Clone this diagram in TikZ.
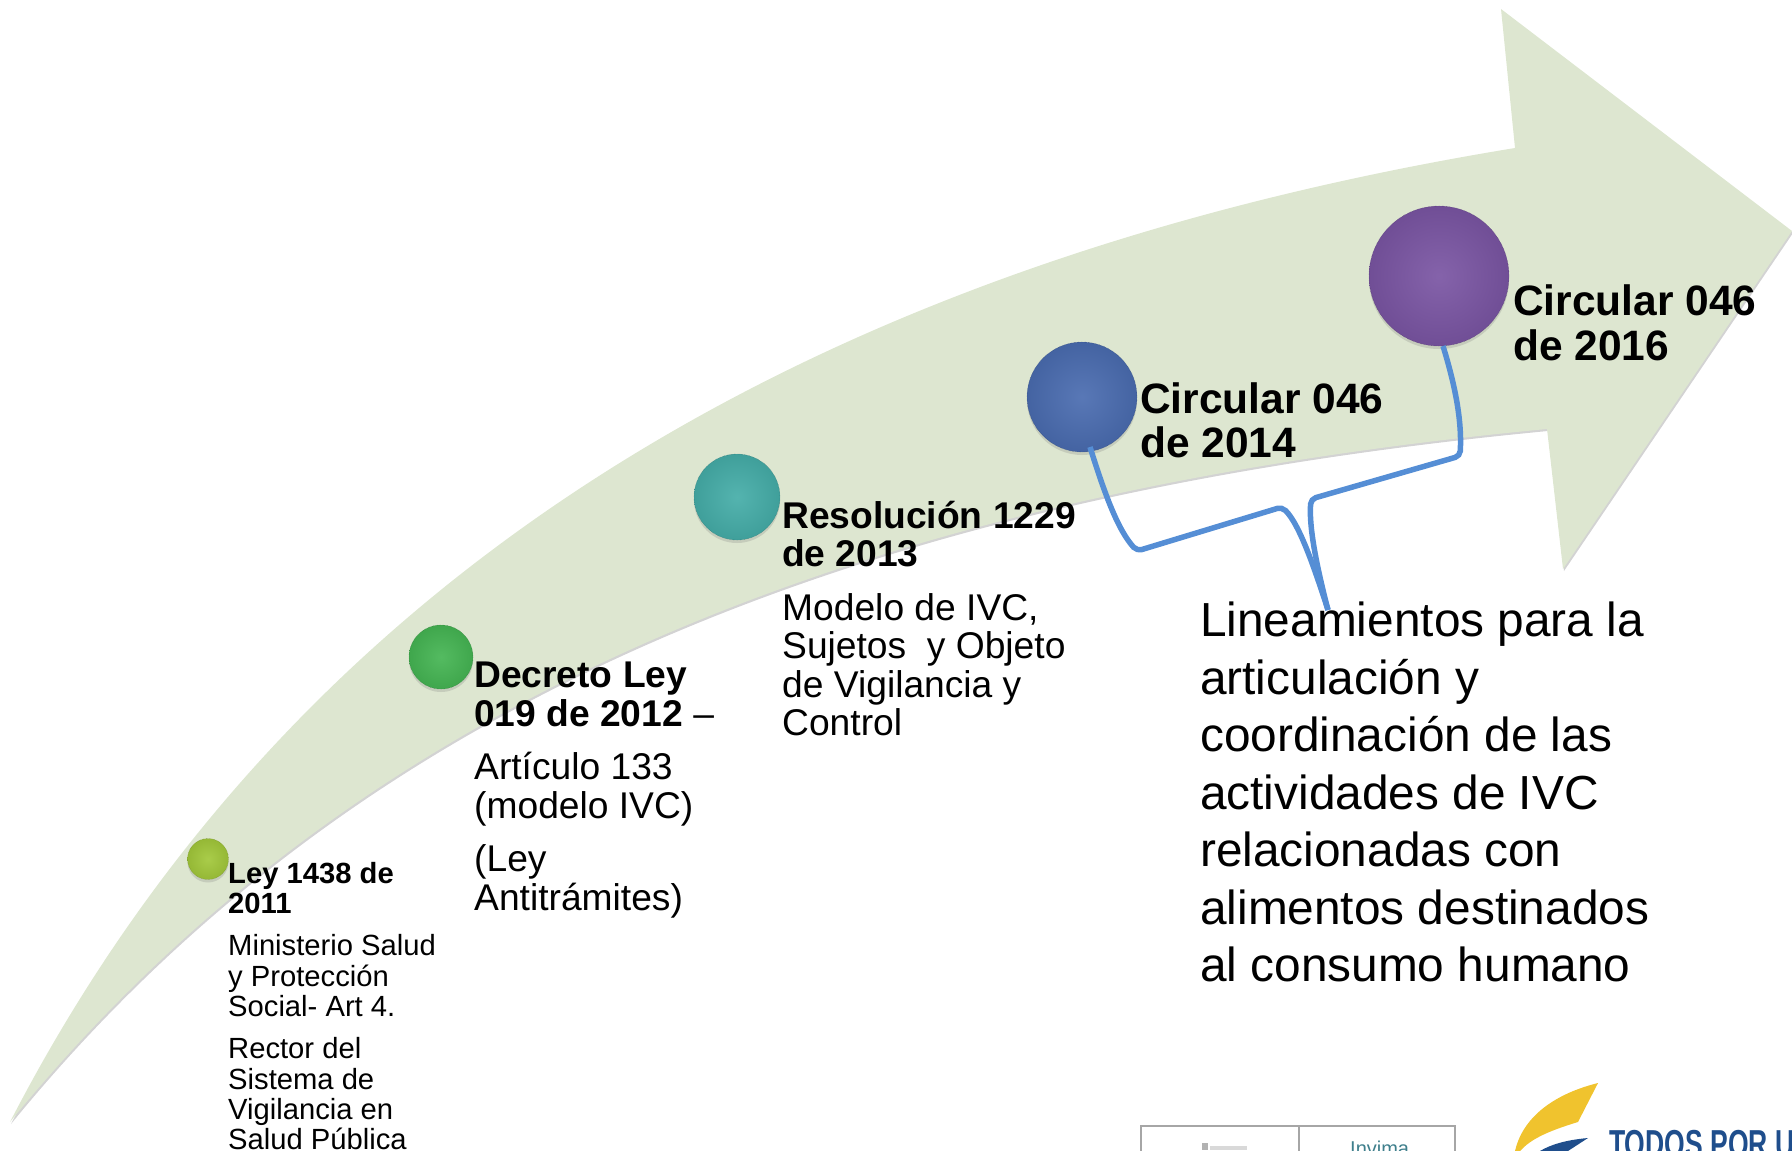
\documentclass[tikz,border=0pt]{standalone}
\usepackage{fontspec}
\setmainfont{Liberation Sans}
\usetikzlibrary{shadows}
\definecolor{arrowgreen}{HTML}{DDE6D0}
\definecolor{calloutblue}{HTML}{558ED5}
\definecolor{limeball}{HTML}{A2C83A}
\definecolor{greenball}{HTML}{45B553}
\definecolor{tealball}{HTML}{45ADA8}
\definecolor{blueball}{HTML}{4A6CB0}
\definecolor{purpleball}{HTML}{7A55A3}
\definecolor{todosblue}{HTML}{1F4E8C}
\definecolor{todosyellow}{HTML}{F0C32E}
\definecolor{invimateal}{HTML}{3F7F8C}
\newcommand{\fsize}[2]{\fontsize{#1}{#2}\selectfont}
\begin{document}
\begin{tikzpicture}[x=1pt,y=-1pt]
    \tikzstyle{ball} = [circle, inner sep=0pt, draw=#1!65!black, densely dotted, inner color=#1!92!white, outer color=#1!92!black, drop shadow={opacity=0.25, shadow xshift=0pt, shadow yshift=-3pt}]
    \tikzstyle{note} = [anchor=north west, inner sep=0pt, align=left, text=black]
    \tikzstyle{callout} = [draw=calloutblue, line width=5.5pt, rounded corners=5pt]

    \useasboundingbox (0,0) rectangle (1792,1151);

    % the big curved arrow
    \fill [arrowgreen, drop shadow={opacity=0.35, shadow xshift=1pt, shadow yshift=-2pt}]
        (10,1122) .. controls (300,560) and (830,260) .. (1515,148)
        -- (1501,9) -- (1792,231) -- (1563,569) -- (1547,429)
        .. controls (800,500) and (330,730) .. (10,1122) -- cycle;

    % the balls
    \node [ball=limeball, minimum size=41pt] (lime) at (208,859) {};
    \node [ball=greenball, minimum size=64pt] (green) at (441,657) {};
    \node [ball=tealball, minimum size=86pt] (teal) at (737,497) {};
    \node [ball=blueball, minimum size=110pt] (blue) at (1082,397) {};
    \node [ball=purpleball, minimum size=140pt] (purple) at (1439,276) {};

    % the texts
    \node [note, font=\fsize{29.2}{30.3}] (leytext) at (228,862) {\textbf{Ley 1438 de}\\\textbf{2011}\\[12pt]
        Ministerio Salud\\y Protección\\Social- Art 4.\\[12pt]
        Rector del\\Sistema de\\Vigilancia en\\Salud Pública};
    \node [note, font=\fsize{37.2}{38.5}] (decretotext) at (474,662) {\textbf{Decreto Ley}\\\textbf{019 de 2012} –\\[15pt]
        Artículo 133\\(modelo IVC)\\[15pt]
        (Ley\\Antitrámites)};
    \node [note, font=\fsize{37.2}{38.5}] (resoluciontext) at (782,501) {\textbf{Resolución 1229}\\\textbf{de 2013}\\[15pt]
        Modelo de IVC,\\Sujetos\ \ y Objeto\\de Vigilancia y\\Control};
    \node [note, font=\fsize{42.5}{44.6}] (circulartext) at (1140,382) {\textbf{Circular 046}\\\textbf{de 2014}};
    \node [note, font=\fsize{42.5}{44.6}] (circularnext) at (1513,285) {\textbf{Circular 046}\\\textbf{de 2016}};
    \node [note, font=\fsize{47.8}{57.5}] (lineamientos) at (1200,602) {Lineamientos para la\\articulación y\\coordinación de las\\actividades de IVC\\relacionadas con\\alimentos destinados\\al consumo humano};

    % the two callout lines
    \coordinate (meet) at (1328,610);
    \draw [callout] (1090,447) .. controls (1105,495) and (1118,530) .. (1137,551)
        -- (1282,507) .. controls (1300,525) and (1315,570) .. (meet);
    \draw [callout] (1443,346) .. controls (1455,385) and (1462,420) .. (1460,456)
        -- (1311,499) .. controls (1309,525) and (1315,560) .. (meet);

    % logos at the bottom
    \draw [gray!70, line width=1.2pt] (1141,1151) |- (1455,1126) -- (1455,1151) (1299,1126) -- (1299,1151);
    \fill [gray!60] (1202,1143) rectangle (1208,1150);
    \fill [gray!30] (1210,1146) rectangle (1247,1150);
    \node [anchor=base west, inner sep=0pt, text=invimateal, font=\fsize{20}{20}] (invima) at (1350,1155) {Invima};
    \fill [todosyellow] (1598,1083) .. controls (1550,1095) and (1522,1120) .. (1515,1151) -- (1520,1151) .. controls (1530,1140) and (1545,1132) .. (1578,1122) -- cycle;
    \fill [todosblue] (1588,1138) .. controls (1565,1140) and (1550,1145) .. (1540,1151) -- (1568,1151) -- cycle;
    \node [anchor=base west, inner sep=0pt, text=todosblue, font=\fsize{39}{39}] (todos) at (1609,1157) {\scalebox{0.68}[1]{\textbf{TODOS POR U}}};
\end{tikzpicture}
\end{document}
